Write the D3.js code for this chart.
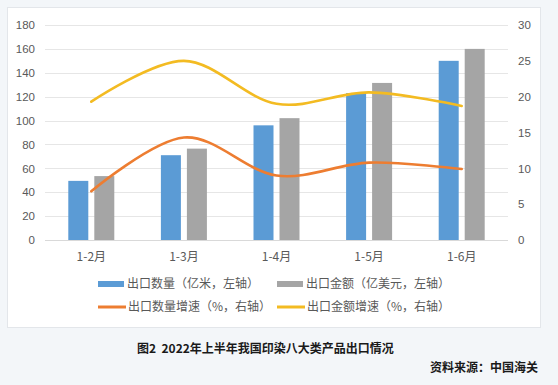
<!DOCTYPE html>
<html><head><meta charset="utf-8">
<script src="https://cdn.jsdelivr.net/npm/d3@7"></script>
<style>
html,body{margin:0;padding:0;background:#f3f6f9;}
svg{display:block;}
</style></head>
<body>
<script>
const categories = ["1-2月","1-3月","1-4月","1-5月","1-6月"];
const qtyValues = [49.5, 71, 96, 123, 150];
const amtValues = [53.5, 76.5, 102, 131.5, 160];
const qtyGrowth = [6.8, 14.3, 9.0, 10.8, 9.9];
const amtGrowth = [19.3, 25.0, 19.0, 20.6, 18.7];
const leftTicks = [0,20,40,60,80,100,120,140,160,180];
const rightTicks = [0,5,10,15,20,25,30];
const seriesNames = ["出口数量（亿米，左轴）","出口金额（亿美元，左轴）","出口数量增速（%，右轴）","出口金额增速（%，右轴）"];
const colors = ["#5b9bd5","#a5a5a5","#ed7d31","#f3bb22"];
const caption = "图2  2022年上半年我国印染八大类产品出口情况";
const source = "资料来源：中国海关";

const W = 558, H = 385;
const svg = d3.select("body").append("svg").attr("width", W).attr("height", H);
svg.append("rect").attr("width", W).attr("height", H).attr("fill", "#f3f6f9");
svg.append("rect").attr("x", 7.5).attr("y", 7.5).attr("width", 533).attr("height", 320)
  .attr("fill", "#ffffff").attr("stroke", "#e3e6ea").attr("stroke-width", 1);

const plot = {l: 45, r: 508, t: 25, b: 240};
const x = d3.scaleBand().domain(categories).range([plot.l, plot.r]);
const yL = d3.scaleLinear().domain([0,180]).range([plot.b, plot.t]);
const yR = d3.scaleLinear().domain([0,30]).range([plot.b, plot.t]);
const numFont = "'Liberation Sans', Arial, 'Noto Sans CJK SC', sans-serif";
const cjkFont = "'Noto Sans CJK SC', 'Liberation Sans', sans-serif";

// gridlines
svg.append("g").selectAll("line").data(leftTicks).join("line")
  .attr("x1", plot.l).attr("x2", plot.r)
  .attr("y1", d => Math.round(yL(d)) + 0.5).attr("y2", d => Math.round(yL(d)) + 0.5)
  .attr("stroke", d => d === 0 ? "#d9d9d9" : "#e6e6e6").attr("stroke-width", 1);

// left axis
const gl = svg.append("g").attr("transform", `translate(${plot.l},0)`)
  .call(d3.axisLeft(yL).tickValues(leftTicks).tickSize(0).tickPadding(10));
gl.select(".domain").remove();
gl.selectAll("text").attr("font-family", numFont).attr("font-size", 11.5).attr("fill", "#595959");

// right axis
const gr = svg.append("g").attr("transform", `translate(${plot.r},0)`)
  .call(d3.axisRight(yR).tickValues(rightTicks).tickSize(0).tickPadding(10));
gr.select(".domain").remove();
gr.selectAll("text").attr("font-family", numFont).attr("font-size", 11.5).attr("fill", "#595959");

// x axis
const gx = svg.append("g").attr("transform", `translate(0,${plot.b})`)
  .call(d3.axisBottom(x).tickSize(0).tickPadding(12));
gx.select(".domain").remove();
gx.selectAll("text").attr("font-family", cjkFont).attr("font-size", 12).attr("fill", "#595959");

// bars
const bw = 20, gap = 3;
svg.append("g").selectAll("rect").data(categories).join("rect")
  .attr("x", d => x(d) + x.bandwidth()/2 - gap - bw)
  .attr("y", (d,i) => yL(qtyValues[i]))
  .attr("width", bw)
  .attr("height", (d,i) => yL(0) - yL(qtyValues[i]))
  .attr("fill", colors[0]);
svg.append("g").selectAll("rect").data(categories).join("rect")
  .attr("x", d => x(d) + x.bandwidth()/2 + gap)
  .attr("y", (d,i) => yL(amtValues[i]))
  .attr("width", bw)
  .attr("height", (d,i) => yL(0) - yL(amtValues[i]))
  .attr("fill", colors[1]);

// lines
const line = d3.line()
  .x((d,i) => x(categories[i]) + x.bandwidth()/2)
  .y(d => yR(d))
  .curve(d3.curveCardinal.tension(0));
svg.append("path").attr("d", line(qtyGrowth)).attr("fill","none")
  .attr("stroke", colors[2]).attr("stroke-width", 2.6).attr("stroke-linecap","round");
svg.append("path").attr("d", line(amtGrowth)).attr("fill","none")
  .attr("stroke", colors[3]).attr("stroke-width", 2.6).attr("stroke-linecap","round");

// legend
const legendPos = [[98,284],[277,284],[98,307],[277,307]];
const lg = svg.append("g");
seriesNames.forEach((name, i) => {
  const [lx, ly] = legendPos[i];
  if (i < 2) {
    lg.append("rect").attr("x", lx).attr("y", ly - 3).attr("width", 26).attr("height", 6).attr("fill", colors[i]);
  } else {
    lg.append("line").attr("x1", lx).attr("x2", lx + 28).attr("y1", ly).attr("y2", ly)
      .attr("stroke", colors[i]).attr("stroke-width", 3);
  }
  lg.append("text").attr("x", lx + (i < 2 ? 29 : 30)).attr("y", ly).attr("dy", "0.36em")
    .attr("font-family", cjkFont).attr("font-size", 12).attr("fill", "#595959").text(name);
});

// caption and source
svg.append("text").attr("x", 137).attr("y", 349).attr("dy", "0.36em")
  .attr("font-family", cjkFont).attr("font-size", 12).attr("font-weight", "bold")
  .attr("fill", "#1a1a1a").attr("xml:space","preserve").style("white-space","pre").text(caption);
svg.append("text").attr("x", 538).attr("y", 368).attr("dy", "0.36em").attr("text-anchor", "end")
  .attr("font-family", cjkFont).attr("font-size", 12).attr("font-weight", "bold")
  .attr("fill", "#1a1a1a").text(source);
</script>
</body></html>
